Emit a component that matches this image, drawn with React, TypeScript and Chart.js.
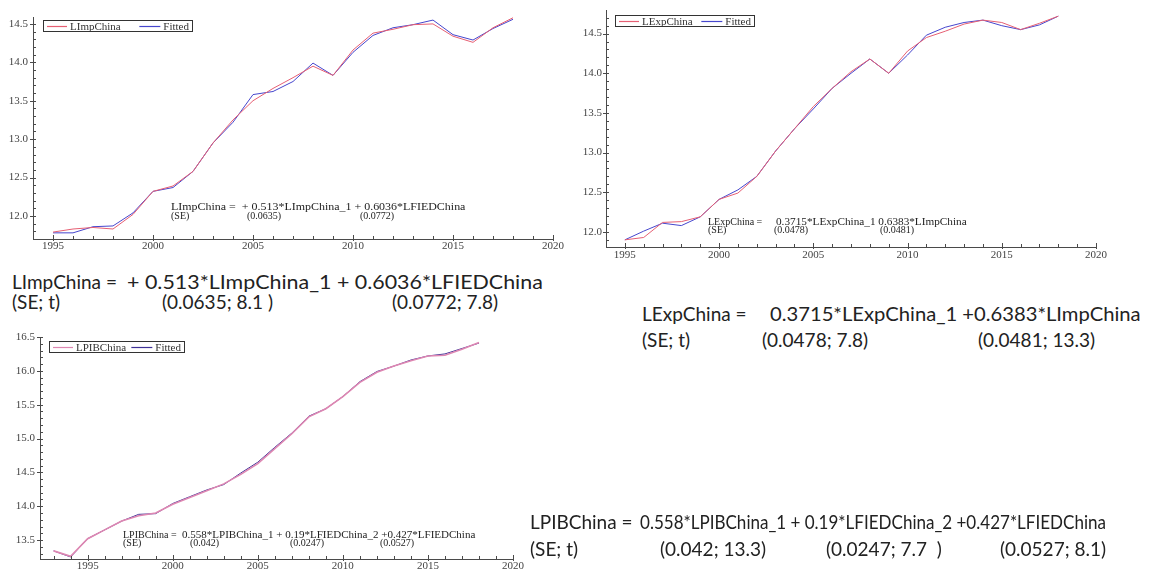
import React, { useEffect, useLayoutEffect, useRef } from 'react';
import { Chart, registerables } from 'chart.js';

Chart.register(...registerables);

// ---------- data ----------
const impYears = [1995, 1996, 1997, 1998, 1999, 2000, 2001, 2002, 2003, 2004, 2005, 2006, 2007, 2008, 2009, 2010, 2011, 2012, 2013, 2014, 2015, 2016, 2017, 2018];
const impActual = [11.79, 11.83, 11.85, 11.83, 12.02, 12.32, 12.39, 12.58, 12.95, 13.25, 13.5, 13.66, 13.8, 13.95, 13.83, 14.16, 14.38, 14.43, 14.49, 14.5, 14.34, 14.26, 14.45, 14.58];
const impFitted = [11.78, 11.78, 11.86, 11.87, 12.04, 12.32, 12.37, 12.58, 12.95, 13.22, 13.58, 13.62, 13.75, 13.99, 13.83, 14.13, 14.35, 14.45, 14.49, 14.55, 14.36, 14.29, 14.44, 14.56];

const expYears = impYears;
const expActual = [11.9, 11.93, 12.12, 12.13, 12.19, 12.41, 12.49, 12.7, 13.02, 13.3, 13.58, 13.81, 14.02, 14.18, 14.0, 14.28, 14.45, 14.53, 14.62, 14.67, 14.64, 14.55, 14.63, 14.72];
const expFitted = [11.9, 12.01, 12.11, 12.08, 12.19, 12.41, 12.53, 12.7, 13.02, 13.3, 13.55, 13.81, 14.0, 14.18, 14.0, 14.23, 14.48, 14.58, 14.64, 14.67, 14.6, 14.55, 14.61, 14.72];

const pibYears = [1993, 1994, 1995, 1996, 1997, 1998, 1999, 2000, 2001, 2002, 2003, 2004, 2005, 2006, 2007, 2008, 2009, 2010, 2011, 2012, 2013, 2014, 2015, 2016, 2017, 2018];
const pibActual = [13.34, 13.26, 13.52, 13.65, 13.78, 13.86, 13.9, 14.03, 14.13, 14.23, 14.33, 14.47, 14.63, 14.85, 15.07, 15.32, 15.44, 15.62, 15.83, 15.98, 16.07, 16.15, 16.22, 16.23, 16.32, 16.42];
const pibFitted = [13.34, 13.25, 13.52, 13.65, 13.78, 13.88, 13.89, 14.04, 14.14, 14.24, 14.32, 14.49, 14.65, 14.87, 15.08, 15.33, 15.44, 15.62, 15.84, 15.99, 16.07, 16.16, 16.22, 16.25, 16.33, 16.41];

const xTickLabels = [1995, 2000, 2005, 2010, 2015, 2020];
const yTicksImpExp = [12.0, 12.5, 13.0, 13.5, 14.0, 14.5];
const yTicksPib = [13.5, 14.0, 14.5, 15.0, 15.5, 16.0, 16.5];

const seriesNames = { imp: 'LImpChina', exp: 'LExpChina', pib: 'LPIBChina', fitted: 'Fitted' };

// equation texts inside the charts
const impEqLine1 = 'LImpChina =  + 0.513*LImpChina_1 + 0.6036*LFIEDChina';
const impEqLine2 = ['(SE)', '(0.0635)', '(0.0772)'];
const expEqLine1 = ['LExpChina =', '0.3715*LExpChina_1 0.6383*LImpChina'];
const expEqLine2 = ['(SE)', '(0.0478)', '(0.0481)'];
const pibEqLine1 = ['LPIBChina =', '0.558*LPIBChina_1 + 0.19*LFIEDChina_2 +0.427*LFIEDChina'];
const pibEqLine2 = ['(SE)', '(0.042)', '(0.0247)', '(0.0527)'];

// big equation texts outside the charts
const impText1 = ['LImpChina =', '+ 0.513*LImpChina_1 + 0.6036*LFIEDChina'];
const impText2 = ['(SE; t)', '(0.0635; 8.1 )', '(0.0772; 7.8)'];
const expText1 = ['LExpChina =', '0.3715*LExpChina_1 +0.6383*LImpChina'];
const expText2 = ['(SE; t)', '(0.0478; 7.8)', '(0.0481; 13.3)'];
const pibText1 = ['LPIBChina =', '0.558*LPIBChina_1 + 0.19*LFIEDChina_2 +0.427*LFIEDChina'];
const pibText2 = ['(SE; t)', '(0.042; 13.3)', '(0.0247; 7.7  )', '(0.0527; 8.1)'];

// ---------- styles ----------
const SERIF = '"Liberation Serif", "DejaVu Serif", serif';
const SANS = 'Lato, "Open Sans", sans-serif';
const RED = 'rgb(230, 95, 115)';
const BLUE = 'rgb(70, 70, 205)';
const PINK = 'rgb(222, 135, 178)';
const NAVY = 'rgb(62, 48, 150)';
const AXIS = '#4a4a4a';

const boxLegend = {
  id: 'boxLegend',
  afterDraw(chart: any, _a: any, o: any) {
    if (!o || !o.w) return;
    const { ctx, chartArea } = chart;
    const x = Math.round(chartArea.left + o.dx);
    const y = Math.round(chartArea.top + o.dy);
    ctx.save();
    ctx.fillStyle = '#fff';
    ctx.fillRect(x, y, o.w, o.h);
    ctx.strokeStyle = '#333';
    ctx.lineWidth = 1;
    ctx.strokeRect(x + 0.5, y + 0.5, o.w, o.h);
    const my = Math.round(y + o.h / 2) + 0.5;
    const ds = chart.data.datasets;
    ctx.font = o.font;
    ctx.textBaseline = 'middle';
    ctx.strokeStyle = ds[0].borderColor;
    ctx.lineWidth = 1.2;
    ctx.beginPath();
    ctx.moveTo(x + 4, my);
    ctx.lineTo(x + 24, my);
    ctx.stroke();
    ctx.fillStyle = '#333';
    ctx.fillText(ds[0].label, x + 27, my + 0.5);
    const tw = ctx.measureText(ds[1].label).width;
    const tx = x + o.w - 3 - tw;
    ctx.strokeStyle = ds[1].borderColor;
    ctx.beginPath();
    ctx.moveTo(tx - 24, my);
    ctx.lineTo(tx - 3, my);
    ctx.stroke();
    ctx.fillText(ds[1].label, tx, my + 0.5);
    ctx.restore();
  },
};

const tickMarks = {
  id: 'tickMarks',
  afterDraw(chart: any) {
    const { ctx, chartArea, scales } = chart;
    const xs = scales.x;
    const ys = scales.y;
    ctx.save();
    ctx.strokeStyle = AXIS;
    ctx.lineWidth = 1;
    ctx.beginPath();
    for (let v = Math.ceil(xs.min); v <= xs.max + 1e-6; v += 1) {
      const px = Math.round(xs.getPixelForValue(v)) + 0.5;
      const major = v % 5 === 0;
      ctx.moveTo(px, chartArea.bottom + (major ? 2 : 0));
      ctx.lineTo(px, chartArea.bottom - (major ? 4 : 3));
    }
    for (let k = Math.ceil(ys.min * 10 - 1e-6); k <= Math.floor(ys.max * 10 + 1e-6); k++) {
      const py = Math.round(ys.getPixelForValue(k / 10)) + 0.5;
      const major = k % 5 === 0;
      ctx.moveTo(chartArea.left - (major ? 3 : 0), py);
      ctx.lineTo(chartArea.left + 3, py);
    }
    ctx.stroke();
    ctx.restore();
  },
};

type PanelProps = {
  left: number; top: number; width: number; height: number;
  yAxisWidth: number; xAxisHeight: number; padTop: number; padRight: number; xPad: number; yPad: number;
  xMin: number; xMax: number; yMin: number; yMax: number; yTicks: number[];
  years: number[]; actual: number[]; fitted: number[]; actualLabel: string;
  redColor: string; blueColor: string; redWidth: number; legend: any;
};

function Panel(p: PanelProps) {
  const ref = useRef<HTMLCanvasElement>(null);
  useEffect(() => {
    if (!ref.current) return;
    const chart = new Chart(ref.current, {
      type: 'line',
      data: {
        datasets: [
          { label: p.actualLabel, data: p.years.map((x, i) => ({ x, y: p.actual[i] })), borderColor: p.redColor, borderWidth: p.redWidth, pointRadius: 0, tension: 0, fill: false },
          { label: seriesNames.fitted, data: p.years.map((x, i) => ({ x, y: p.fitted[i] })), borderColor: p.blueColor, borderWidth: 1, pointRadius: 0, tension: 0, fill: false },
        ],
      },
      options: {
        responsive: false,
        animation: false,
        devicePixelRatio: 1,
        layout: { padding: { top: p.padTop, right: p.padRight, left: 0, bottom: 0 } },
        plugins: {
          legend: { display: false },
          tooltip: { enabled: false },
          boxLegend: p.legend,
        } as any,
        scales: {
          x: {
            type: 'linear', min: p.xMin, max: p.xMax,
            afterBuildTicks: (s: any) => { s.ticks = xTickLabels.map((v) => ({ value: v })); },
            afterFit: (s: any) => { s.height = p.xAxisHeight; },
            grid: { display: false, drawTicks: false, tickLength: 0 },
            border: { display: true, color: AXIS, width: 1 },
            ticks: { autoSkip: false, maxRotation: 0, padding: p.xPad, color: '#444', font: { family: SERIF, size: 11 }, callback: (v: any) => String(v) },
          },
          y: {
            type: 'linear', min: p.yMin, max: p.yMax,
            afterBuildTicks: (s: any) => { s.ticks = p.yTicks.map((v) => ({ value: v })); },
            afterFit: (s: any) => { s.width = p.yAxisWidth; },
            grid: { display: false, drawTicks: false, tickLength: 0 },
            border: { display: true, color: AXIS, width: 1 },
            ticks: { autoSkip: false, padding: p.yPad, color: '#444', font: { family: SERIF, size: 11 }, callback: (v: any) => Number(v).toFixed(1) },
          },
        },
      },
      plugins: [tickMarks, boxLegend],
    } as any);
    return () => chart.destroy();
  }, []);
  return (
    <canvas
      ref={ref}
      width={p.width}
      height={p.height}
      style={{ position: 'absolute', left: p.left, top: p.top, width: p.width, height: p.height }}
    />
  );
}

function Txt({ x, y, text, size, family, w, color }: { x: number; y: number; text: string; size: number; family: string; w?: number; color?: string }) {
  const ref = useRef<HTMLDivElement>(null);
  useLayoutEffect(() => {
    const el = ref.current;
    if (!el) return;
    if (w) {
      const nat = el.scrollWidth;
      if (nat > 0) el.style.transform = `translateY(-50%) scaleX(${w / nat})`;
    }
  }, [w, text]);
  return (
    <div
      ref={ref}
      style={{
        position: 'absolute', left: x, top: y, fontSize: size, fontFamily: family, whiteSpace: 'pre',
        lineHeight: 1, color: color || '#222', transformOrigin: 'left center', transform: 'translateY(-50%)',
      }}
    >
      {text}
    </div>
  );
}

export default function App() {
  const eq = 10;
  const big = 19;
  return (
    <div style={{ position: 'fixed', left: 0, top: 0, width: 1161, height: 569, overflow: 'hidden', background: '#fff' }}>
      <Panel
        left={0} top={0} width={575} height={262}
        yAxisWidth={33} xAxisHeight={23} padTop={17} padRight={22} xPad={1} yPad={5}
        xMin={1994} xMax={2020} yMin={11.7} yMax={14.59} yTicks={yTicksImpExp}
        years={impYears} actual={impActual} fitted={impFitted} actualLabel={seriesNames.imp}
        redColor={RED} blueColor={BLUE} redWidth={1}
        legend={{ dx: 10, dy: 3, w: 149, h: 11, font: `11px ${SERIF}` }}
      />
      <Panel
        left={573} top={0} width={588} height={270}
        yAxisWidth={33} xAxisHeight={23} padTop={8} padRight={65} xPad={2} yPad={4}
        xMin={1994} xMax={2020} yMin={11.81} yMax={14.79} yTicks={yTicksImpExp}
        years={expYears} actual={expActual} fitted={expFitted} actualLabel={seriesNames.exp}
        redColor={RED} blueColor={BLUE} redWidth={1}
        legend={{ dx: 9, dy: 4, w: 139, h: 11, font: `11px ${SERIF}` }}
      />
      <Panel
        left={0} top={322} width={560} height={260}
        yAxisWidth={40} xAxisHeight={23} padTop={15} padRight={47} xPad={1} yPad={5}
        xMin={1992.2} xMax={2020} yMin={13.22} yMax={16.5} yTicks={yTicksPib}
        years={pibYears} actual={pibActual} fitted={pibFitted} actualLabel={seriesNames.pib}
        redColor={PINK} blueColor={NAVY} redWidth={1.6}
        legend={{ dx: 9, dy: 4, w: 135, h: 11, font: `11px ${SERIF}` }}
      />

      {/* in-chart equations */}
      <Txt x={171} y={207} text={impEqLine1} size={eq} family={SERIF} w={294} />
      <Txt x={171} y={216} text={impEqLine2[0]} size={eq} family={SERIF} />
      <Txt x={247} y={216} text={impEqLine2[1]} size={eq} family={SERIF} />
      <Txt x={360} y={216} text={impEqLine2[2]} size={eq} family={SERIF} />

      <Txt x={708} y={222} text={expEqLine1[0]} size={eq} family={SERIF} />
      <Txt x={776} y={222} text={expEqLine1[1]} size={eq} family={SERIF} w={191} />
      <Txt x={708} y={230} text={expEqLine2[0]} size={eq} family={SERIF} />
      <Txt x={774} y={230} text={expEqLine2[1]} size={eq} family={SERIF} />
      <Txt x={880} y={230} text={expEqLine2[2]} size={eq} family={SERIF} />

      <Txt x={123} y={535} text={pibEqLine1[0]} size={eq} family={SERIF} />
      <Txt x={182} y={535} text={pibEqLine1[1]} size={eq} family={SERIF} w={293} />
      <Txt x={123} y={543} text={pibEqLine2[0]} size={eq} family={SERIF} />
      <Txt x={190} y={543} text={pibEqLine2[1]} size={eq} family={SERIF} />
      <Txt x={290} y={543} text={pibEqLine2[2]} size={eq} family={SERIF} />
      <Txt x={380} y={543} text={pibEqLine2[3]} size={eq} family={SERIF} />

      {/* big equations */}
      <Txt x={12} y={281} text={impText1[0]} size={big} family={SANS} />
      <Txt x={127} y={281} text={impText1[1]} size={big} family={SANS} w={416} />
      <Txt x={12} y={301} text={impText2[0]} size={big} family={SANS} />
      <Txt x={162} y={301} text={impText2[1]} size={big} family={SANS} />
      <Txt x={392} y={301} text={impText2[2]} size={big} family={SANS} />

      <Txt x={642} y={313} text={expText1[0]} size={big} family={SANS} />
      <Txt x={770} y={313} text={expText1[1]} size={big} family={SANS} w={371} />
      <Txt x={642} y={339} text={expText2[0]} size={big} family={SANS} />
      <Txt x={762} y={339} text={expText2[1]} size={big} family={SANS} />
      <Txt x={978} y={339} text={expText2[2]} size={big} family={SANS} />

      <Txt x={530} y={521} text={pibText1[0]} size={big} family={SANS} />
      <Txt x={640} y={521} text={pibText1[1]} size={big} family={SANS} w={466} />
      <Txt x={530} y={548} text={pibText2[0]} size={big} family={SANS} />
      <Txt x={660} y={548} text={pibText2[1]} size={big} family={SANS} />
      <Txt x={826} y={548} text={pibText2[2]} size={big} family={SANS} />
      <Txt x={1000} y={548} text={pibText2[3]} size={big} family={SANS} />
    </div>
  );
}
